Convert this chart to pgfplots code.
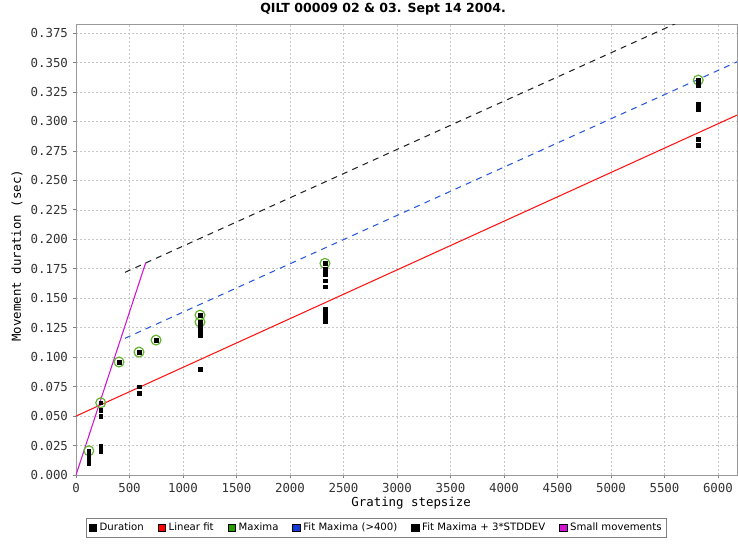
\documentclass[border=0pt]{standalone}
\usepackage{fontspec}
\setmainfont{DejaVu Sans}
\newfontfamily\monof{DejaVu Sans Mono}
\usepackage{pgfplots}
\pgfplotsset{compat=1.18}
\definecolor{fitred}{RGB}{255,20,20}
\definecolor{fitblue}{RGB}{40,90,220}
\definecolor{maxgreen}{RGB}{100,180,50}
\definecolor{leggreen}{RGB}{40,155,0}
\definecolor{legblue}{RGB}{20,60,210}
\definecolor{smallmag}{RGB}{210,20,210}
\begin{document}
\begin{tikzpicture}
\begin{axis}[
  at={(0,0)}, anchor=south west,
  scale only axis, width=495.75pt, height=337.7pt,
  xmin=0, xmax=6178, ymin=0, ymax=0.3821,
  xtick={0,500,1000,1500,2000,2500,3000,3500,4000,4500,5000,5500,6000},
  xticklabels={0,500,1000,1500,2000,2500,3000,3500,4000,4500,5000,5500,6000},
  ytick={0,0.025,0.05,0.075,0.1,0.125,0.15,0.175,0.2,0.225,0.25,0.275,0.3,0.325,0.35,0.375},
  yticklabels={0.000,0.025,0.050,0.075,0.100,0.125,0.150,0.175,0.200,0.225,0.250,0.275,0.300,0.325,0.350,0.375},
  scaled ticks=false,
  /pgf/number format/assume math mode=true,
  tick label style={font=\monof\fontsize{9.3}{11}\selectfont, text=black!80},
  xtick pos=left, ytick pos=left,
  tick align=outside, major tick length=2.5pt,
  tick style={gray, line width=0.6pt},
  axis line style={gray!80, line width=0.6pt},
  grid=major,
  major grid style={gray!45, dash pattern=on 1.5pt off 1.5pt, line width=0.5pt},
  xlabel={Grating stepsize},
  ylabel={Movement duration (sec)},
  label style={font=\monof\fontsize{9.3}{11}\selectfont},
  xlabel style={at={(axis description cs:0.507,-0.062)}, anchor=center},
  ylabel style={at={(axis description cs:-0.0893,0.487)}, anchor=center},
  title={QILT 00009 02 \& 03. Sept 14 2004.},
  title style={font=\bfseries\fontsize{9.4}{11}\selectfont, at={(axis description cs:0.4645,1)}, anchor=base, yshift=3.5pt},
  legend image code/.code={\fill[#1] (0pt,-2.8pt) rectangle (5.6pt,2.8pt);},
  legend style={at={(axis description cs:0.4546,-0.0955)}, anchor=north,
    draw=gray, line width=0.6pt, font=\fontsize{7.6}{9}\selectfont,
    inner sep=1.6pt, row sep=0pt,
    /tikz/every even column/.append style={column sep=8.5pt}},
  legend columns=-1,
]
% Maxima circles
\addplot[only marks, mark=o, mark size=3.7pt, mark options={draw=maxgreen, line width=0.9pt}, forget plot] coordinates {
 (120,0.0206) (231,0.0613) (402,0.0959) (589,0.1043) (748,0.1145)
 (1159,0.1357) (1159,0.1298) (2327,0.1796) (5816,0.3351)
};
% Duration
\addplot[only marks, mark=square*, mark size=1.4pt, black, forget plot] coordinates {
 (120,0.0206) (120,0.0178) (120,0.0155) (120,0.0133) (120,0.0099)
 (231,0.0613) (231,0.0550) (231,0.0500) (231,0.0246) (231,0.0204)
 (402,0.0959)
 (589,0.1043) (589,0.0749) (589,0.0693)
 (748,0.1145)
 (1159,0.1357) (1159,0.1298) (1159,0.1270) (1159,0.1247) (1159,0.1221) (1159,0.1188) (1159,0.0899)
 (2327,0.1796) (2327,0.1745) (2327,0.1703) (2327,0.1648) (2327,0.1597) (2327,0.1406) (2327,0.1366) (2327,0.1329) (2327,0.1301)
 (5816,0.3351) (5816,0.3308) (5816,0.3147) (5816,0.3102) (5816,0.2848) (5816,0.2799)
};
% Linear fit
\addplot[fitred, line width=0.8pt, forget plot] coordinates {(0,0.050) (6178,0.3054)};
% Fit maxima (>400)
\addplot[fitblue, line width=0.8pt, dash pattern=on 4.5pt off 4pt, forget plot] coordinates {(458,0.116) (6178,0.3506)};
% Fit maxima + 3*STDDEV
\addplot[black!85, line width=0.8pt, dash pattern=on 4.5pt off 4pt, forget plot] coordinates {(458,0.172) (6178,0.4066)};
% Small movements
\addplot[smallmag, line width=0.8pt, forget plot] coordinates {(0,0) (651,0.180)};
\addlegendimage{fill=black}\addlegendentry{Duration}
\addlegendimage{fill=red}\addlegendentry{Linear fit}
\addlegendimage{fill=leggreen}\addlegendentry{Maxima}
\addlegendimage{fill=legblue}\addlegendentry{Fit Maxima (>400)}
\addlegendimage{fill=black}\addlegendentry{Fit Maxima + 3*STDDEV}
\addlegendimage{fill=smallmag}\addlegendentry{Small movements}
\end{axis}
\pgfresetboundingbox
\path[use as bounding box] (-57pt,-51pt) rectangle (496.5pt,356.25pt);
\end{tikzpicture}
\end{document}
